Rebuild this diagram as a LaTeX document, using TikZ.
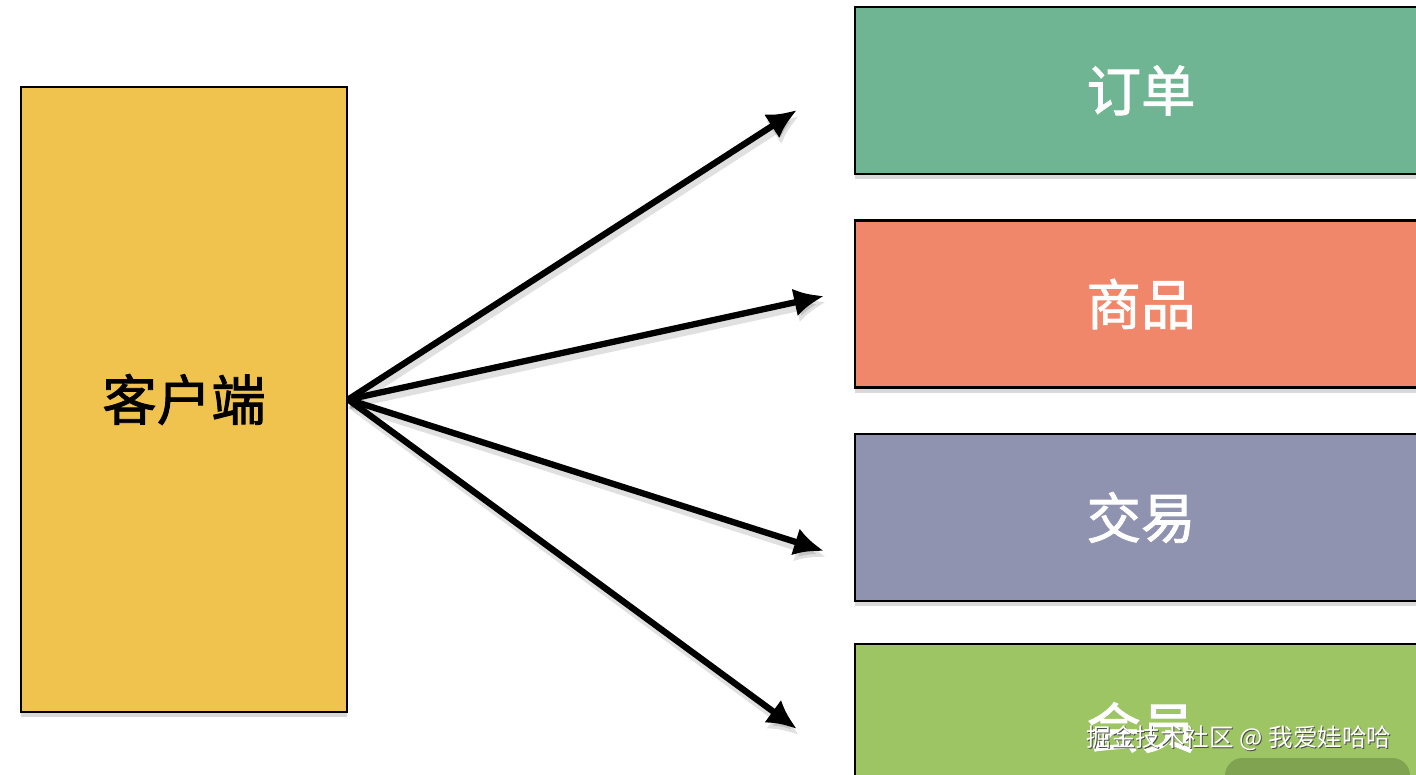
\documentclass[tikz,border=0pt]{standalone}
\usepackage{fontspec}
\newfontfamily\cjk{Noto Sans CJK SC}[FakeBold=1.6]
\newfontfamily\cjkmark{Noto Sans CJK SC}
\usetikzlibrary{arrows.meta,shadows}
\definecolor{clientyellow}{RGB}{240,195,78}
\definecolor{ordergreen}{RGB}{111,180,147}
\definecolor{goodsred}{RGB}{240,134,106}
\definecolor{tradegray}{RGB}{144,147,176}
\definecolor{membergreen}{RGB}{157,197,99}
\definecolor{buttongreen}{RGB}{128,163,82}

\begin{document}
\begin{tikzpicture}[x=0.02cm,y=-0.02cm,>={Latex[length=17pt,width=16pt]}]
  \tikzset{
    box/.style={draw=black,line width=1.4pt,inner sep=0pt,
      drop shadow={shadow xshift=0pt,shadow yshift=-3pt,opacity=0.3},
      font=\cjk\fontsize{31}{31}\selectfont},
    link/.style={->,line width=3.6pt},
    linkshadow/.style={->,line width=3.6pt,black,opacity=0.12}
  }
  \useasboundingbox (0,0) rectangle (1416,774);
  \node[box,fill=clientyellow,minimum width=6.52cm,minimum height=12.5cm] (client) at (184,399.5) {客户端};
  % services on the right, cut by the edge
  \foreach \yy/\name/\col/\lab in {90.5/order/ordergreen/订单,304/goods/goodsred/商品,517.5/trade/tradegray/交易,727.5/member/membergreen/会员}{
    \node[box,fill=\col,text=white,minimum width=11.44cm,minimum height=3.34cm] (\name) at (1141,\yy) {\lab};
  }
  \coordinate (tipA) at (797,110);
  \coordinate (tipB) at (824,296);
  \coordinate (tipC) at (824,551);
  \coordinate (tipD) at (797,729);
  \foreach \tip in {tipA,tipB,tipC,tipD}{
    \draw[linkshadow] ([shift={(2,6)}]client.east) -- ([shift={(2,6)}]\tip);
    \draw[link] (client.east) -- (\tip);
  }
  % watermark
  \fill[buttongreen,rounded corners=10pt] (1225,758) rectangle (1410,800);
  \node[font=\cjkmark\fontsize{14}{14}\selectfont,text=black!70] (markshade) at (1240,739) {掘金技术社区 @ 我爱娃哈哈};
  \node[font=\cjkmark\fontsize{14}{14}\selectfont,text=white] (mark) at (1239,738) {掘金技术社区 @ 我爱娃哈哈};
\end{tikzpicture}
\end{document}
